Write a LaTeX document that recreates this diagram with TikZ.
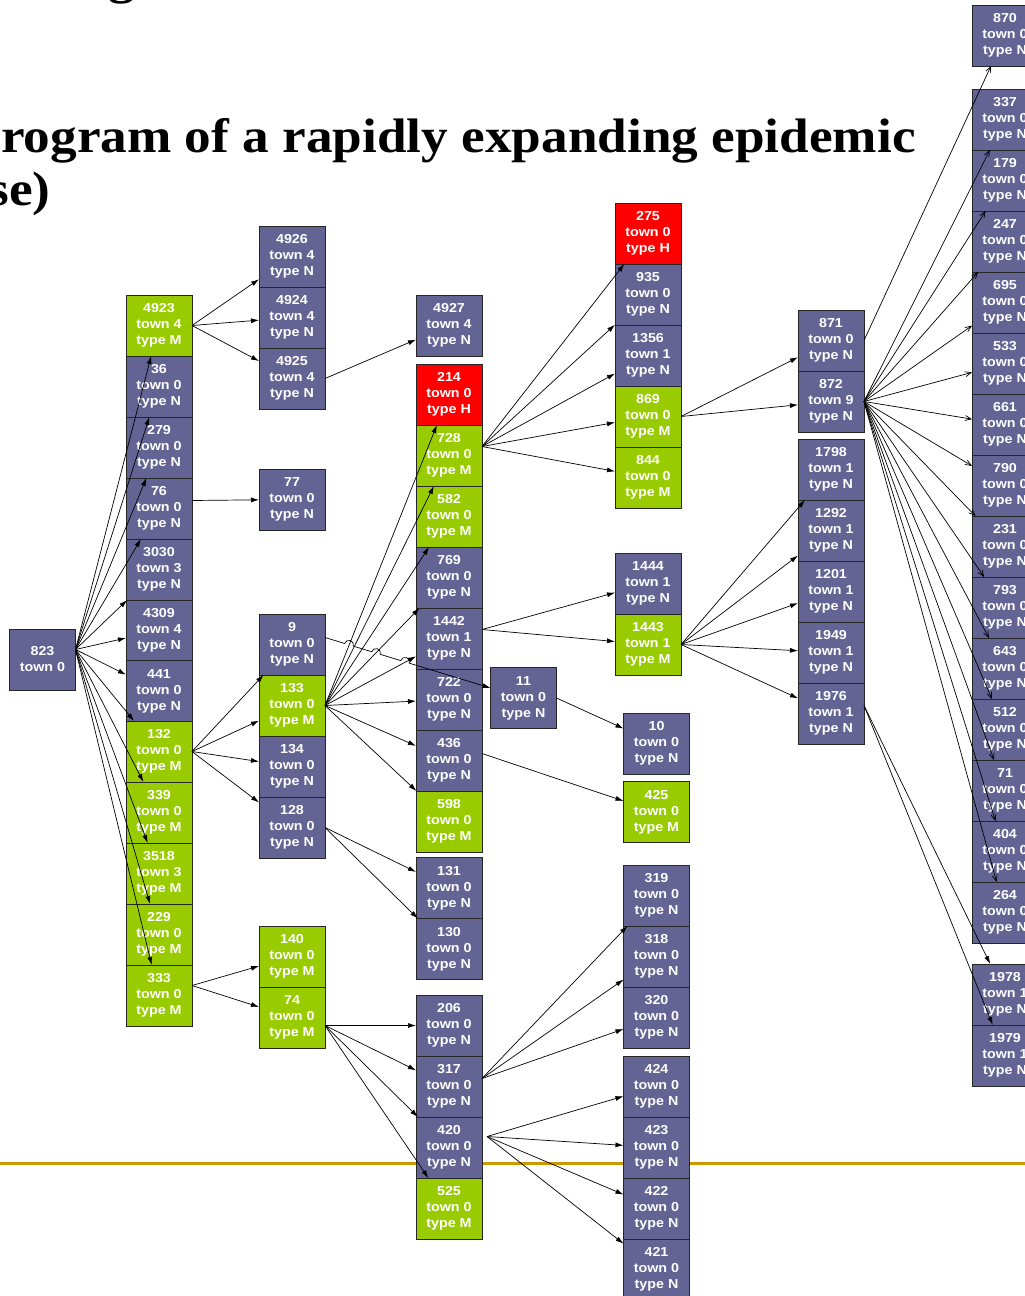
\documentclass[tikz,border=0pt]{standalone}
\usepackage{fontspec}
\usetikzlibrary{arrows.meta}
\usetikzlibrary{calc}
\newfontfamily\cellfont[FakeStretch=1.1]{Liberation Sans}
\newfontfamily\headfont[FakeStretch=1.1]{Liberation Serif}
\definecolor{colN}{HTML}{636394}
\definecolor{colM}{HTML}{99CC00}
\definecolor{colH}{HTML}{FF0000}
\definecolor{rulegold}{HTML}{CC9900}
\tikzset{
	cell/.style={draw=black!85,text=white,align=center,minimum width=66pt,minimum height=61pt,inner sep=0pt,outer sep=0pt,font=\cellfont\bfseries\fontsize{13}{16}\selectfont},
	cellN/.style={cell,fill=colN},
	cellM/.style={cell,fill=colM},
	cellH/.style={cell,fill=colH},
	head/.style={inner sep=0pt,font=\headfont\bfseries\fontsize{48.4}{53}\selectfont},
	barb/.style={-{Straight Barb[length=6pt,width=5pt]}}
}

\begin{document}
\begin{tikzpicture}[x=1pt,y=-1pt,line width=0.7pt,>={Latex[length=8pt,width=5pt]}]
			\useasboundingbox (0,0) rectangle (1025,1296);
			\clip (0,0) rectangle (1025,1296);
			
			% title, cut by the slide edge
			\node[head,anchor=base west] (frag) at (108,-7) {g};
			\node[head,anchor=base east] (title) at (916,152) {rogram of a rapidly expanding epidemic};
			\node[head,anchor=base east] (title2) at (51,205) {se)};
			
			\draw[rulegold,line width=3pt] (0,1163) -- (1025,1163);
			
			% index case
			\node (n823) at (42.5,659.5) [cellN] {823\\town 0};
			
			% first generation
			\node (n4923) at (159,325.5) [cellM] {4923\\town 4\\type M};
			\node (n36) at (159,386.5) [cellN] {36\\town 0\\type N};
			\node (n279) at (159,447.5) [cellN] {279\\town 0\\type N};
			\node (n76) at (159,508.5) [cellN] {76\\town 0\\type N};
			\node (n3030) at (159,569.5) [cellN] {3030\\town 3\\type N};
			\node (n4309) at (159,630.5) [cellN] {4309\\town 4\\type N};
			\node (n441) at (159,691) [cellN] {441\\town 0\\type N};
			\node (n132) at (159,751.5) [cellM] {132\\town 0\\type M};
			\node (n339) at (159,812.5) [cellM] {339\\town 0\\type M};
			\node (n3518) at (159,873.5) [cellM] {3518\\town 3\\type M};
			\node (n229) at (159,934.5) [cellM] {229\\town 0\\type M};
			\node (n333) at (159,995.5) [cellM] {333\\town 0\\type M};
			
			% second generation
			\node (n4926) at (292,256.5) [cellN] {4926\\town 4\\type N};
			\node (n4924) at (292,317.5) [cellN] {4924\\town 4\\type N};
			\node (n4925) at (292,378.5) [cellN] {4925\\town 4\\type N};
			\node (n77) at (292,499.5) [cellN] {77\\town 0\\type N};
			\node (n9) at (292,644.5) [cellN] {9\\town 0\\type N};
			\node (n133) at (292,705.5) [cellM] {133\\town 0\\type M};
			\node (n134) at (292,766.5) [cellN] {134\\town 0\\type N};
			\node (n128) at (292,827.5) [cellN] {128\\town 0\\type N};
			\node (n140) at (292,956.5) [cellM] {140\\town 0\\type M};
			\node (n74) at (292,1017.5) [cellM] {74\\town 0\\type M};
			
			% third generation
			\node (n4927) at (449,325.5) [cellN] {4927\\town 4\\type N};
			\node (n214) at (449,394.5) [cellH] {214\\town 0\\type H};
			\node (n728) at (449,455.5) [cellM] {728\\town 0\\type M};
			\node (n582) at (449,516.5) [cellM] {582\\town 0\\type M};
			\node (n769) at (449,577.5) [cellN] {769\\town 0\\type N};
			\node (n1442) at (449,638.5) [cellN] {1442\\town 1\\type N};
			\node (n722) at (449,699.5) [cellN] {722\\town 0\\type N};
			\node (n436) at (449,760.5) [cellN] {436\\town 0\\type N};
			\node (n598) at (449,821.5) [cellM] {598\\town 0\\type M};
			\node (n131) at (449,888) [cellN] {131\\town 0\\type N};
			\node (n130) at (449,949) [cellN] {130\\town 0\\type N};
			\node (n206) at (449,1025.5) [cellN] {206\\town 0\\type N};
			\node (n317) at (449,1086.5) [cellN] {317\\town 0\\type N};
			\node (n420) at (449,1147.5) [cellN] {420\\town 0\\type N};
			\node (n525) at (449,1208.5) [cellM] {525\\town 0\\type M};
			\node (n11) at (523.5,698) [cellN] {11\\town 0\\type N};
			
			% fourth generation
			\node (n275) at (648,233.5) [cellH] {275\\town 0\\type H};
			\node (n935) at (648,294.5) [cellN] {935\\town 0\\type N};
			\node (n1356) at (648,355.5) [cellN] {1356\\town 1\\type N};
			\node (n869) at (648,416.5) [cellM] {869\\town 0\\type M};
			\node (n844) at (648,477.5) [cellM] {844\\town 0\\type M};
			\node (n1444) at (648,583.5) [cellN] {1444\\town 1\\type N};
			\node (n1443) at (648,644.5) [cellM] {1443\\town 1\\type M};
			\node (n10) at (656.5,743.5) [cellN] {10\\town 0\\type N};
			\node (n425) at (656.5,812) [cellM] {425\\town 0\\type M};
			\node (n319) at (656.5,895.5) [cellN] {319\\town 0\\type N};
			\node (n318) at (656.5,956.5) [cellN] {318\\town 0\\type N};
			\node (n320) at (656.5,1017.5) [cellN] {320\\town 0\\type N};
			\node (n424) at (656.5,1086.5) [cellN] {424\\town 0\\type N};
			\node (n423) at (656.5,1147.5) [cellN] {423\\town 0\\type N};
			\node (n422) at (656.5,1208.5) [cellN] {422\\town 0\\type N};
			\node (n421) at (656.5,1269.5) [cellN] {421\\town 0\\type N};
			
			% fifth generation
			\node (n871) at (831,340.5) [cellN] {871\\town 0\\type N};
			\node (n872) at (831,401.5) [cellN] {872\\town 9\\type N};
			\node (n1798) at (831,469.5) [cellN] {1798\\town 1\\type N};
			\node (n1292) at (831,530.5) [cellN] {1292\\town 1\\type N};
			\node (n1201) at (831,591.5) [cellN] {1201\\town 1\\type N};
			\node (n1949) at (831,652.5) [cellN] {1949\\town 1\\type N};
			\node (n1976) at (831,713.5) [cellN] {1976\\town 1\\type N};
			
			% sixth generation
			\node (n870) at (1005,35.5) [cellN] {870\\town 0\\type N};
			\node (n337) at (1005,119.5) [cellN] {337\\town 0\\type N};
			\node (n179) at (1005,180.5) [cellN] {179\\town 0\\type N};
			\node (n247) at (1005,241.5) [cellN] {247\\town 0\\type N};
			\node (n695) at (1005,302.5) [cellN] {695\\town 0\\type N};
			\node (n533) at (1005,363.5) [cellN] {533\\town 0\\type N};
			\node (n661) at (1005,424.5) [cellN] {661\\town 0\\type N};
			\node (n790) at (1005,485.5) [cellN] {790\\town 0\\type N};
			\node (n231) at (1005,546.5) [cellN] {231\\town 0\\type N};
			\node (n793) at (1005,607.5) [cellN] {793\\town 0\\type N};
			\node (n643) at (1005,668.5) [cellN] {643\\town 0\\type N};
			\node (n512) at (1005,729.5) [cellN] {512\\town 0\\type N};
			\node (n71) at (1005,790.5) [cellN] {71\\town 0\\type N};
			\node (n404) at (1005,851.5) [cellN] {404\\town 0\\type N};
			\node (n264) at (1005,912.5) [cellN] {264\\town 0\\type N};
			\node (n1978) at (1005,994.5) [cellN] {1978\\town 1\\type N};
			\node (n1979) at (1005,1055.5) [cellN] {1979\\town 1\\type N};
			
			% ports the arrows leave from
			\coordinate (p823) at ([yshift=10pt]n823.east);
			\coordinate (p76) at ([yshift=8pt]n76.east);
			\coordinate (p333) at ([yshift=10pt]n333.east);
			\coordinate (p9) at ([yshift=7pt]n9.east);
			\coordinate (p74) at ([yshift=-8pt]n74.east);
			\coordinate (p728) at ([yshift=9pt]n728.east);
			\coordinate (p1442) at ([yshift=9pt]n1442.east);
			\coordinate (p436) at ([yshift=7pt]n436.east);
			\coordinate (p317) at ([yshift=8pt]n317.east);
			\coordinate (p420) at ([xshift=5pt,yshift=11pt]n420.east);
			\coordinate (p1976) at ([yshift=8pt]n1976.east);
			
			\draw[->] (p823) to (n4923);
			\draw[->] (p823) to (n36);
			\draw[->] (p823) to (n279);
			\draw[->] (p823) to (n76);
			\draw[->] (p823) to (n3030);
			\draw[->] (p823) to (n4309);
			\draw[->] (p823) to (n441);
			\draw[->] (p823) to (n132);
			\draw[->] (p823) to (n339);
			\draw[->] (p823) to (n3518);
			\draw[->] (p823) to (n229);
			\draw[->] (p823) to (n333);
			
			\draw[->] (n4923.east) to (n4926);
			\draw[->] (n4923.east) to (n4924);
			\draw[->] (n4923.east) to (n4925);
			\draw[->] (n4925.east) to (n4927);
			\draw[->] (p76) to (n77);
			\draw[->] (n132.east) to (n9);
			\draw[->] (n132.east) to (n133);
			\draw[->] (n132.east) to (n134);
			\draw[->] (n132.east) to (n128);
			\draw[->] (p333) to (n140);
			\draw[->] (p333) to (n74);
			
			\draw[->] (n133.east) to (n214);
			\draw[->] (n133.east) to (n728);
			\draw[->] (n133.east) to (n582);
			\draw[->] (n133.east) to (n769);
			\draw[->] (n133.east) to (n1442);
			\draw[->] (n133.east) to (n722);
			\draw[->] (n133.east) to (n436);
			\draw[->] (n133.east) to (n598);
			% 9 to 11 hops over the crossing lines
			\draw[->] (p9) -- ($(p9)!0.0992!(n11.center)$) arc[start angle=163.1,end angle=-16.9,radius=4.5pt]
				-- ($(p9)!0.2353!(n11.center)$) arc[start angle=163.1,end angle=-16.9,radius=4.5pt]
				-- ($(p9)!0.3814!(n11.center)$) arc[start angle=163.1,end angle=-16.9,radius=4.5pt]
				-- (n11);
			\draw[->] (n128.east) to (n131);
			\draw[->] (n128.east) to (n130);
			\draw[->] (p74) to (n206);
			\draw[->] (p74) to (n317);
			\draw[->] (p74) to (n420);
			\draw[->] (p74) to (n525);
			
			\draw[->] (p728) to (n275);
			\draw[->] (p728) to (n935);
			\draw[->] (p728) to (n1356);
			\draw[->] (p728) to (n869);
			\draw[->] (p728) to (n844);
			\draw[->] (p1442) to (n1444);
			\draw[->] (p1442) to (n1443);
			\draw[->] (n11.east) to (n10);
			\draw[->] (p436) to (n425);
			\draw[->] (p317) to (n319);
			\draw[->] (p317) to (n318);
			\draw[->] (p317) to (n320);
			\draw[->] (p420) to (n424);
			\draw[->] (p420) to (n423);
			\draw[->] (p420) to (n422);
			\draw[->] (p420) to (n421);
			
			\draw[->] (n869.east) to (n871);
			\draw[->] (n869.east) to (n872);
			\draw[->] (n1443.east) to (n1798);
			\draw[->] (n1443.east) to (n1292);
			\draw[->] (n1443.east) to (n1201);
			\draw[->] (n1443.east) to (n1949);
			\draw[->] (n1443.east) to (n1976);
			
			\draw[barb] (n871.east) to (n870);
			\draw[barb] (n872.east) to (n337);
			\draw[barb] (n872.east) to (n179);
			\draw[barb] (n872.east) to (n247);
			\draw[barb] (n872.east) to (n695);
			\draw[barb] (n872.east) to (n533);
			\draw[barb] (n872.east) to (n661);
			\draw[barb] (n872.east) to (n790);
			\draw[barb] (n872.east) to (n231);
			\draw[barb] (n872.east) to (n793);
			\draw[barb] (n872.east) to (n643);
			\draw[barb] (n872.east) to (n512);
			\draw[barb] (n872.east) to (n71);
			\draw[barb] (n872.east) to (n404);
			\draw[barb] (n872.east) to (n264);
			\draw[->] (p1976) to (n1978);
			\draw[->] (p1976) to (n1979);
		\end{tikzpicture}
\end{document}
